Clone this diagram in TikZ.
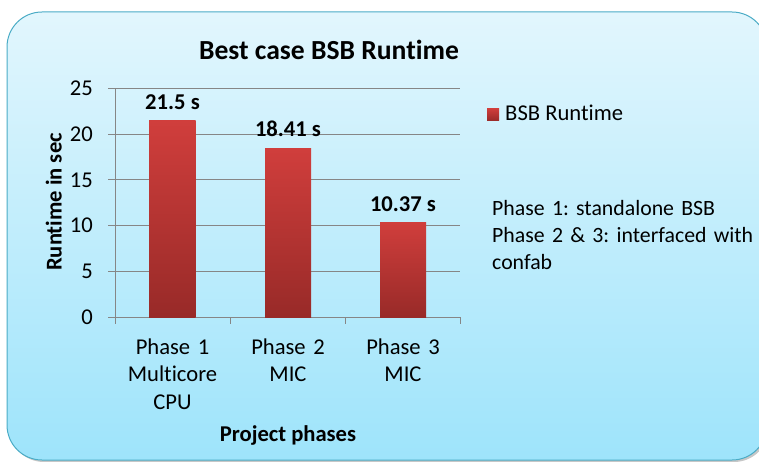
\documentclass[tikz,border=0pt]{standalone}
\usepackage{fontspec}
\setmainfont{Carlito}[Ligatures=NoCommon]
\frenchspacing
\definecolor{panelTop}{RGB}{226,246,253}
\definecolor{panelBot}{RGB}{158,228,251}
\definecolor{panelLine}{RGB}{75,172,198}
\definecolor{barTop}{RGB}{208,62,60}
\definecolor{barBot}{RGB}{152,42,40}
\definecolor{gridGray}{RGB}{134,134,134}
\tikzset{
  txt/.style={inner sep=0pt, font=\fontsize{22.6}{27.6}\selectfont},
  boldtxt/.style={txt, font=\fontsize{22.6}{27.6}\selectfont\bfseries},
  gridline/.style={draw=gridGray, line width=1pt},
  barfill/.style={top color=barTop, bottom color=barBot},
}
\newcommand{\yv}[1]{317.3-9.16*#1}
\begin{document}
\begin{tikzpicture}[x=1pt,y=-1pt]
\useasboundingbox (0,0) rectangle (759,462);
% panel with soft shadow
\fill[black!22, rounded corners=35pt] (9,14) rectangle (769,462);
\shade[top color=panelTop, bottom color=panelBot, rounded corners=35pt] (7,12) rectangle (767,460);
\draw[panelLine, line width=1pt, rounded corners=35pt] (7,12) rectangle (767,460);

% horizontal gridlines and value ticks
\foreach \v in {5,10,...,25}
  \draw[gridline] (115,{\yv{\v}}) -- (460,{\yv{\v}});
\foreach \v in {0,5,...,25}
  \draw[gridline] (108,{\yv{\v}}) -- (115,{\yv{\v}});
\coordinate (origin) at (115,{\yv{0}});
\coordinate (ytop) at (115,{\yv{25}});
\coordinate (xend) at (460,{\yv{0}});
\draw[gridline] (ytop) -- (origin) -- (xend);
\foreach \x in {115,230,345,460}
  \draw[gridline] (\x,{\yv{0}}) -- (\x,{\yv{0}+7});

% tick labels
\foreach \v in {0,5,...,25}
  \node[txt, anchor=east] (tick\v) at (93,{\yv{\v}}) {\v};

% bars
\shade[barfill] (149,{\yv{0}}) rectangle (195.7,{\yv{21.5}});
\shade[barfill] (265,{\yv{0}}) rectangle (311,{\yv{18.41}});
\shade[barfill] (380,{\yv{0}}) rectangle (426,{\yv{10.37}});

% value labels
\node[boldtxt, anchor=base] (val1) at (172.5,109.3) {21.5 s};
\node[boldtxt, anchor=base] (val2) at (288,136.7) {18.41 s};
\node[boldtxt, anchor=base] (val3) at (403,211.5) {10.37 s};

% category labels
\node[txt, anchor=base, text width=120pt, align=center] (cat1) at (172.5,354) {Phase 1\\Multicore\\CPU};
\node[txt, anchor=base, text width=120pt, align=center] (cat2) at (288,354) {Phase 2\\MIC};
\node[txt, anchor=base, text width=120pt, align=center] (cat3) at (403,354) {Phase 3\\MIC};

% titles
\node[inner sep=0pt, anchor=base, font=\fontsize{27.6}{33}\selectfont\bfseries] (title) at (329,59.3) {Best case BSB Runtime};
\node[boldtxt, anchor=base] (xtitle) at (288,441.5) {Project phases};
\node[boldtxt, anchor=base, rotate=90] (ytitle) at (61.5,202) {Runtime in sec};

% legend
\shade[barfill] (487,108.5) rectangle (499,121);
\node[txt, anchor=base west] (legend) at (505,120.7) {BSB Runtime};

% note
\node[inner sep=0pt, font=\fontsize{21.8}{27.4}\selectfont, anchor=base west, text width=280pt, align=left] (note) at (492,215) {Phase 1: standalone BSB\\Phase 2 \& 3: interfaced with\\confab};
\end{tikzpicture}
\end{document}
